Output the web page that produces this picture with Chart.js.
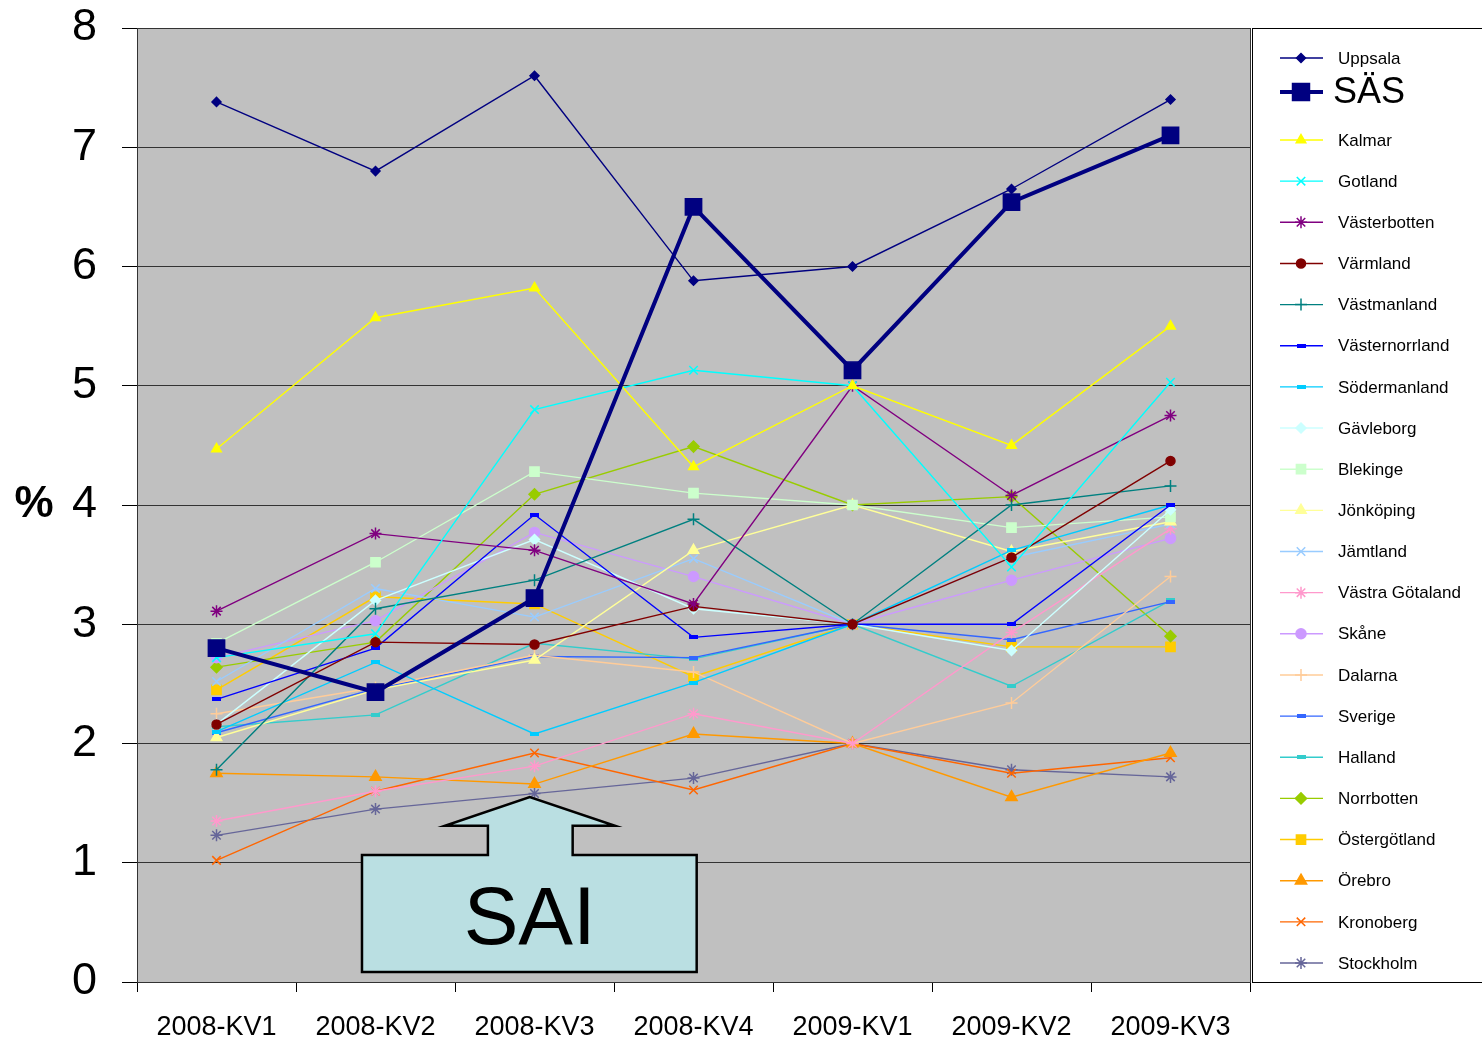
<!DOCTYPE html>
<html>
<head>
<meta charset="utf-8">
<script src="https://cdn.jsdelivr.net/npm/chart.js@4.4.0/dist/chart.umd.min.js"></script>
<style>
  body { margin: 0; background: #fff; }
</style>
</head>
<body>
<canvas id="myChart" width="1482" height="1040"></canvas>
<script>
// quarters on the x axis, percent on y
const quarters = ['2008-KV1', '2008-KV2', '2008-KV3', '2008-KV4', '2009-KV1', '2009-KV2', '2009-KV3'];
const yTicks = [0, 1, 2, 3, 4, 5, 6, 7, 8];

const uppsala = [7.38, 6.80, 7.60, 5.88, 6.00, 6.65, 7.40];
const sas = [2.80, 2.43, 3.22, 6.50, 5.13, 6.54, 7.10];
const kalmar = [4.47, 5.57, 5.82, 4.32, 5.00, 4.50, 5.50];
const gotland = [2.72, 2.92, 4.80, 5.13, 5.00, 3.48, 5.03];
const vasterbotten = [3.11, 3.76, 3.62, 3.17, 5.00, 4.08, 4.75];
const varmland = [2.16, 2.85, 2.83, 3.15, 3.00, 3.56, 4.37];
const vastmanland = [1.78, 3.13, 3.37, 3.88, 3.00, 4.00, 4.16];
const vasternorrland = [2.37, 2.80, 3.92, 2.89, 3.00, 3.00, 4.00];
const sodermanland = [2.10, 2.68, 2.08, 2.51, 3.00, 3.62, 4.00];
const gavleborg = [2.16, 3.20, 3.71, 3.13, 3.00, 2.78, 3.96];
const blekinge = [2.84, 3.52, 4.28, 4.10, 4.00, 3.81, 3.90];
const jonkoping = [2.05, 2.45, 2.70, 3.62, 4.00, 3.61, 3.86];
const jamtland = [2.52, 3.30, 3.06, 3.55, 3.00, 3.56, 3.84];
const vastraGotaland = [1.35, 1.60, 1.81, 2.25, 2.00, 2.93, 3.80];
const skane = [2.72, 3.03, 3.77, 3.40, 3.00, 3.37, 3.72];
const dalarna = [2.25, 2.47, 2.74, 2.60, 2.00, 2.34, 3.40];
const sverige = [2.09, 2.46, 2.73, 2.72, 3.00, 2.87, 3.19];
const halland = [2.14, 2.24, 2.84, 2.71, 3.00, 2.48, 3.20];
const norrbotten = [2.64, 2.85, 4.09, 4.49, 4.00, 4.07, 2.90];
const ostergotland = [2.45, 3.23, 3.17, 2.56, 3.00, 2.81, 2.81];
const orebro = [1.75, 1.72, 1.66, 2.08, 2.00, 1.55, 1.92];
const kronoberg = [1.02, 1.60, 1.92, 1.61, 2.00, 1.75, 1.88];
const stockholm = [1.23, 1.45, 1.58, 1.71, 2.00, 1.78, 1.72];

const FONT = "'Liberation Sans', Arial, sans-serif";

// excel style short bar marker
function dash(color) {
    const c = document.createElement('canvas');
    c.width = 9;
    c.height = 4;
    const g = c.getContext('2d');
    g.fillStyle = color;
    g.fillRect(0, 0, 9, 4);
    return c;
}

function series(label, data, color, style, radius, width) {
    return {
        label: label,
        data: data,
        borderColor: color,
        backgroundColor: color,
        pointBackgroundColor: color,
        pointBorderColor: color,
        pointStyle: style === 'dash' ? dash(color) : style,
        pointRadius: radius,
        pointBorderWidth: 1.5,
        borderWidth: width || 1.4,
        tension: 0,
        fill: false
    };
}

const datasets = [
    series('Uppsala', uppsala, '#000080', 'rectRot', 4.5),
    series('SÄS', sas, '#000080', 'rect', 11.5, 4),
    series('Kalmar', kalmar, '#FFFF00', 'triangle', 5.5),
    series('Gotland', gotland, '#00FFFF', 'crossRot', 6),
    series('Västerbotten', vasterbotten, '#800080', 'star', 6),
    series('Värmland', varmland, '#800000', 'circle', 4.5),
    series('Västmanland', vastmanland, '#008080', 'cross', 6),
    series('Västernorrland', vasternorrland, '#0000FF', 'dash', 4),
    series('Södermanland', sodermanland, '#00CCFF', 'dash', 4),
    series('Gävleborg', gavleborg, '#CCFFFF', 'rectRot', 5),
    series('Blekinge', blekinge, '#CCFFCC', 'rect', 6.5),
    series('Jönköping', jonkoping, '#FFFF99', 'triangle', 6),
    series('Jämtland', jamtland, '#99CCFF', 'crossRot', 6),
    series('Västra Götaland', vastraGotaland, '#FF99CC', 'star', 6),
    series('Skåne', skane, '#CC99FF', 'circle', 5),
    series('Dalarna', dalarna, '#FFCC99', 'cross', 6),
    series('Sverige', sverige, '#3366FF', 'dash', 4),
    series('Halland', halland, '#33CCCC', 'dash', 4),
    series('Norrbotten', norrbotten, '#99CC00', 'rectRot', 5.5),
    series('Östergötland', ostergotland, '#FFCC00', 'rect', 6.5),
    series('Örebro', orebro, '#FF9900', 'triangle', 6.5),
    series('Kronoberg', kronoberg, '#FF6600', 'crossRot', 6),
    series('Stockholm', stockholm, '#666699', 'star', 6)
];

const decor = {
    id: 'decor',
    beforeDraw(chart) {
        const ctx = chart.ctx;
        const a = chart.chartArea;
        ctx.save();
        ctx.fillStyle = '#fff';
        ctx.fillRect(0, 0, chart.width, chart.height);
        ctx.fillStyle = '#C0C0C0';
        ctx.fillRect(a.left, a.top, a.right - a.left, a.bottom - a.top);
        ctx.restore();
    },
    afterDatasetsDraw(chart) {
        // the "SAI" callout arrow, placed in data units
        const ctx = chart.ctx;
        const x = chart.scales.x, y = chart.scales.y;
        const px = v => x.getPixelForValue(v);
        const py = v => y.getPixelForValue(v);
        ctx.save();
        ctx.beginPath();
        ctx.moveTo(px(0.915), py(1.065));
        ctx.lineTo(px(1.707), py(1.065));
        ctx.lineTo(px(1.707), py(1.31));
        ctx.lineTo(px(1.437), py(1.31));
        ctx.lineTo(px(1.97), py(1.55));
        ctx.lineTo(px(2.506), py(1.31));
        ctx.lineTo(px(2.24), py(1.31));
        ctx.lineTo(px(2.24), py(1.065));
        ctx.lineTo(px(3.02), py(1.065));
        ctx.lineTo(px(3.02), py(0.084));
        ctx.lineTo(px(0.915), py(0.084));
        ctx.closePath();
        ctx.fillStyle = '#BADFE2';
        ctx.fill();
        ctx.lineWidth = 2.5;
        ctx.strokeStyle = '#000';
        ctx.stroke();
        ctx.fillStyle = '#000';
        ctx.font = '82px ' + FONT;
        ctx.textAlign = 'center';
        ctx.textBaseline = 'alphabetic';
        ctx.fillText('SAI', px(1.97), py(0.32));
        ctx.restore();
    },
    afterDraw(chart) {
        const ctx = chart.ctx;
        const a = chart.chartArea;
        ctx.save();
        // plot frame
        ctx.strokeStyle = '#333';
        ctx.lineWidth = 1;
        ctx.strokeRect(a.left + 0.5, a.top + 0.5, a.right - a.left, a.bottom - a.top);

        // % label
        ctx.fillStyle = '#000';
        ctx.font = 'bold 44px ' + FONT;
        ctx.textAlign = 'center';
        ctx.textBaseline = 'middle';
        ctx.fillText('%', 34, chart.scales.y.getPixelForValue(4));

        // legend box
        const lx = a.right + 2.5;
        ctx.fillStyle = '#fff';
        ctx.fillRect(lx, a.top + 0.5, chart.width - lx + 10, a.bottom - a.top);
        ctx.strokeStyle = '#000';
        ctx.strokeRect(lx, a.top + 0.5, chart.width - lx + 10, a.bottom - a.top);

        chart.data.datasets.forEach((ds, i) => {
            let ly = i === 0 ? 58 : i === 1 ? 92 : 140 + (i - 2) * 41.15;
            ctx.strokeStyle = ds.borderColor;
            ctx.lineWidth = ds.borderWidth;
            ctx.beginPath();
            ctx.moveTo(1280, ly);
            ctx.lineTo(1323, ly);
            ctx.stroke();
            ctx.fillStyle = ds.pointBackgroundColor;
            ctx.lineWidth = ds.pointBorderWidth;
            Chart.helpers.drawPoint(ctx, {
                pointStyle: ds.pointStyle,
                radius: i === 1 ? 12 : ds.pointRadius,
                rotation: 0,
                borderWidth: ds.pointBorderWidth
            }, 1301, ly);
            ctx.fillStyle = '#000';
            ctx.textAlign = 'left';
            ctx.textBaseline = 'middle';
            if (i === 1) {
                ctx.font = '36px ' + FONT;
                ctx.fillText(ds.label, 1333, ly + 1);
            } else {
                ctx.font = '17px ' + FONT;
                ctx.fillText(ds.label, 1338, ly + 1);
            }
        });
        ctx.restore();
    }
};

const ctx = document.getElementById('myChart').getContext('2d');
const chart = new Chart(ctx, {
    type: 'line',
    data: {
        labels: quarters,
        datasets: datasets
    },
    options: {
        responsive: false,
        animation: false,
        devicePixelRatio: 1,
        layout: { padding: { top: 28, right: 232, left: 0, bottom: 0 } },
        plugins: {
            legend: { display: false },
            tooltip: { enabled: false }
        },
        scales: {
            x: {
                offset: true,
                ticks: { font: { family: FONT, size: 27 }, color: '#000', padding: 19, maxRotation: 0 },
                grid: { offset: true, drawOnChartArea: false, tickLength: 10, color: '#000' },
                border: { color: '#000' },
                afterFit: s => { s.height = 58; s.paddingLeft = 0; s.paddingRight = 0; }
            },
            y: {
                min: yTicks[0],
                max: yTicks[yTicks.length - 1],
                ticks: { stepSize: 1, font: { family: FONT, size: 45 }, color: '#000', padding: 25 },
                grid: { color: '#333', lineWidth: 1, tickLength: 15, tickColor: '#000' },
                border: { color: '#000' },
                afterFit: s => { s.width = 137; s.paddingTop = 0; s.paddingBottom = 0; }
            }
        }
    },
    plugins: [decor]
});
</script>
</body>
</html>
